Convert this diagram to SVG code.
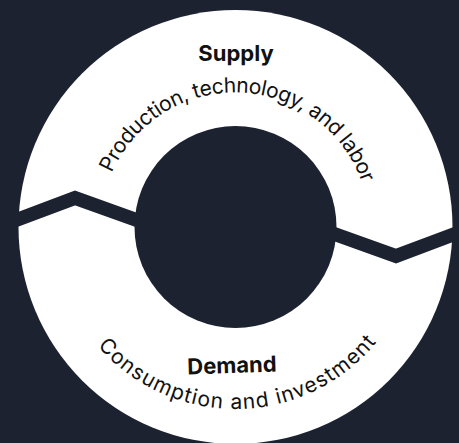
<svg xmlns="http://www.w3.org/2000/svg" width="459" height="443" viewBox="0 0 459 443">
  <style>
    .bg { fill: #1c2230; }
    .ring { fill: #ffffff; }
    .hole { fill: #1c2230; }
    .cut { fill: none; stroke: #1c2230; stroke-width: 14; stroke-linejoin: miter; stroke-miterlimit: 10; }
    .title { font-family: Inter, "Liberation Sans", sans-serif; font-weight: 700; font-size: 22px; fill: #111111; text-anchor: middle; }
    .sub { font-family: Inter, "Liberation Sans", sans-serif; font-weight: 400; font-size: 21px; fill: #111111; text-anchor: middle; }
  </style>
  <defs>
    <path id="arcTop" d="M 100.5 227 A 134 134 0 0 1 369.5 227"/>
    <path id="arcBot" d="M 53.5 227 A 182 182 0 0 0 417.5 227"/>
  </defs>
  <rect class="bg" x="0" y="0" width="459" height="443"/>
  <g id="ring">
    <circle class="ring" cx="235.5" cy="227" r="217"/>
    <circle class="hole" cx="235.5" cy="227" r="101"/>
  </g>
  <g id="connectors">
    <polyline class="cut" points="-20,233.6 75,198 170,232"/>
    <polyline class="cut" points="491,220.4 396,256 301,222"/>
  </g>
  <g id="supply">
    <text class="title" x="236" y="61">Supply</text>
    <text class="sub" letter-spacing="-0.4"><textPath href="#arcTop" startOffset="51.2%">Production, technology, and labor</textPath></text>
  </g>
  <g id="demand">
    <text class="title" x="232" y="373" transform="rotate(-2 232 366)">Demand</text>
    <text class="sub" font-size="22" letter-spacing="1.1"><textPath href="#arcBot" startOffset="50.5%">Consumption and investment</textPath></text>
  </g>
</svg>
